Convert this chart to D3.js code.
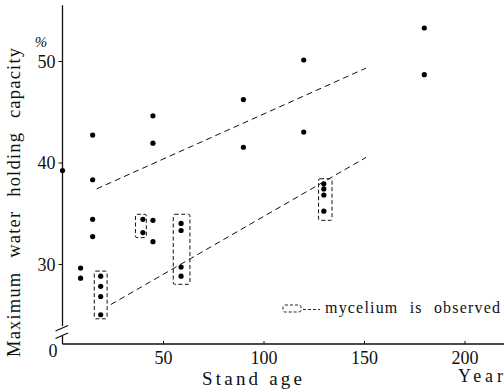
<!DOCTYPE html>
<html>
<head>
<meta charset="utf-8">
<script src="https://cdn.jsdelivr.net/npm/d3@7"></script>
<style>
  body { margin: 0; background: #fff; }
  text { font-family: 'Liberation Serif', serif; }
</style>
</head>
<body>
<div id="chart"></div>
<script>
// stand age (years) and maximum water holding capacity (%) of each sample
let ages     = [0, 9, 9, 15, 15, 15, 15, 19, 19, 19, 19, 40, 40, 45, 45, 45, 45,
                59, 59, 59, 59, 90, 90, 120, 120, 130, 130, 130, 130, 180, 180];
let capacity = [39.2, 29.6, 28.6, 42.7, 38.3, 34.4, 32.7, 28.8, 27.8, 26.8, 25.0, 34.4, 33.1,
                44.6, 41.9, 34.3, 32.2, 34.0, 33.3, 29.7, 28.8, 46.2, 41.5, 50.1, 43.0,
                37.9, 37.4, 36.8, 35.2, 53.25, 48.65];

// dashed trend lines [age, %]
let upperLine = [[17, 37.4], [151, 49.3]];
let lowerLine = [[24, 26.0], [151, 40.5]];

// groups where mycelium is observed: age span and value span
let boxAges   = [[15.8, 22.2], [36.3, 41.7], [55.1, 63.4], [127.4, 134.1]];
let boxValues = [[24.6, 29.3], [32.6, 34.9], [28.0, 34.9], [34.3, 38.4]];

let xTicks = [50, 100, 150, 200];
let yTicks = [30, 40, 50];

let serif = "'Liberation Serif', serif";

let width = 504,
    height = 390,
    baseY = 344,
    svg = d3.select('#chart').append('svg')
        .attr('width', width)
        .attr('height', height);

let x = d3.scaleLinear().domain([0, 200]).range([62.5, 464.5]);
let y = d3.scaleLinear().domain([30, 50]).range([264, 61]);
let x0 = x(0);

let addText = (txt, px, py, size) => svg.append('text')
    .attr('x', px).attr('y', py)
    .attr('font-family', serif)
    .attr('font-size', size)
    .attr('fill', '#111')
    .text(txt);

// axes lines
let axes = svg.append('g').attr('stroke', '#111').attr('stroke-width', 1.3).attr('fill', 'none');
axes.append('line').attr('x1', x0).attr('x2', width).attr('y1', baseY).attr('y2', baseY);
axes.append('line').attr('x1', x0).attr('x2', x0).attr('y1', y(55.5)).attr('y2', y(23.9));
axes.append('line').attr('x1', x0).attr('x2', x0).attr('y1', 335.5).attr('y2', baseY);
// break marks
axes.append('line').attr('x1', x0 - 7).attr('y1', 331).attr('x2', x0 + 5.5).attr('y2', 325.5);
axes.append('line').attr('x1', x0 - 7).attr('y1', 338.5).attr('x2', x0 + 5.5).attr('y2', 333);

// x axis ticks & labels
let xAxis = d3.axisBottom(x).tickValues(xTicks).tickSizeInner(-3).tickSizeOuter(0);
let gx = svg.append('g').attr('transform', 'translate(0,' + baseY + ')').call(xAxis)
    .attr('font-family', serif).attr('font-size', 18);
gx.select('.domain').remove();
gx.selectAll('.tick line').attr('stroke', '#111');
gx.selectAll('.tick text')
    .attr('fill', '#111')
    .attr('dy', null)
    .attr('y', 20);

// y axis ticks & labels
let yAxis = d3.axisLeft(y).tickValues(yTicks).tickSize(4).tickPadding(3);
let gy = svg.append('g').attr('transform', 'translate(' + x0 + ',0)').call(yAxis)
    .attr('font-family', serif).attr('font-size', 18);
gy.select('.domain').remove();
gy.selectAll('.tick line').attr('stroke', '#111');
gy.selectAll('.tick text')
    .attr('fill', '#111')
    .attr('dy', '0.36em');

addText('0', 53, 357, 18).attr('text-anchor', 'middle');
addText('%', 41, 47, 15).attr('text-anchor', 'middle').attr('font-style', 'italic');

// axis titles
addText('Maximum water holding capacity', null, null, 18.5)
    .attr('transform', 'translate(20,357) rotate(-90)')
    .attr('textLength', 309)
    .attr('lengthAdjust', 'spacing')
    .attr('word-spacing', 8);

addText('Stand age', 202, 385, 19)
    .attr('textLength', 100).attr('lengthAdjust', 'spacing');

addText('Year', 458, 382, 18)
    .attr('textLength', 45).attr('lengthAdjust', 'spacing');

// trend lines
let line = d3.line().x((d) => x(d[0])).y((d) => y(d[1]));
svg.selectAll('path.trend')
    .data([upperLine, lowerLine])
    .enter().append('path')
    .attr('class', 'trend')
    .attr('d', line)
    .attr('fill', 'none')
    .attr('stroke', '#111')
    .attr('stroke-width', 1)
    .attr('stroke-dasharray', '6,4');

// mycelium boxes
svg.selectAll('rect.box')
    .data(boxAges)
    .enter().append('rect')
    .attr('class', 'box')
    .attr('x', (d) => x(d[0]))
    .attr('width', (d) => x(d[1]) - x(d[0]))
    .attr('y', (d, i) => y(boxValues[i][1]))
    .attr('height', (d, i) => y(boxValues[i][0]) - y(boxValues[i][1]))
    .attr('rx', 1.5)
    .attr('fill', 'none')
    .attr('stroke', '#111')
    .attr('stroke-width', 1)
    .attr('stroke-dasharray', '4,2.5');

// points
svg.selectAll('circle')
    .data(ages)
    .enter().append('circle')
    .attr('cx', (d) => x(d))
    .attr('cy', (d, i) => y(capacity[i]))
    .attr('r', 2.6)
    .attr('fill', '#000');

// legend
let lg = svg.append('g');
lg.append('rect').attr('x', 283).attr('y', 305).attr('width', 18).attr('height', 7).attr('rx', 2)
    .attr('fill', 'none').attr('stroke', '#111').attr('stroke-width', 0.9).attr('stroke-dasharray', '3,2');
lg.append('line').attr('x1', 303).attr('x2', 320).attr('y1', 309.5).attr('y2', 309.5)
    .attr('stroke', '#111').attr('stroke-width', 0.9).attr('stroke-dasharray', '3,2');
addText('mycelium is observed', 325, 313, 16)
    .attr('textLength', 175).attr('lengthAdjust', 'spacing')
    .attr('word-spacing', 6);
</script>
</body>
</html>
